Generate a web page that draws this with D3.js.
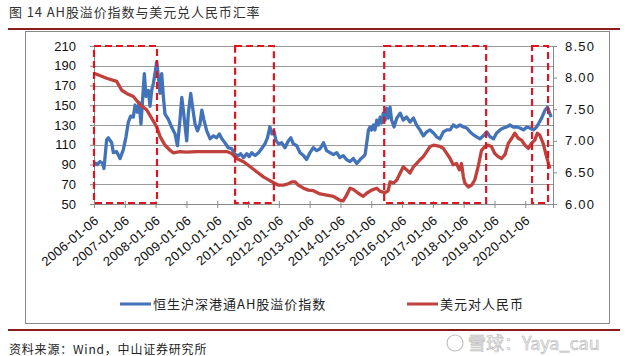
<!DOCTYPE html>
<html><head><meta charset="utf-8">
<script src="https://cdn.jsdelivr.net/npm/d3@7"></script>
<style>body{margin:0;background:#fff}svg{display:block}</style>
</head><body><svg id="c" width="627" height="356"></svg>
<script>
// ---- data ----
const tickYears = [2006,2007,2008,2009,2010,2011,2012,2013,2014,2015,2016,2017,2018,2019,2020];
const tickLabels = tickYears.map(y => y + "-01-06");
const leftTicks = [50,70,90,110,130,150,170,190,210];
const rightTicks = [6.00,6.50,7.00,7.50,8.00,8.50];

// AH premium index (decimal years, value)
const ahYears = [2006.00,2006.10,2006.195,2006.28,2006.325,2006.41,2006.465,2006.574,2006.628,2006.736,2006.844,2006.952,2007.039,2007.115,2007.19,2007.277,2007.331,2007.407,2007.461,2007.526,2007.58,2007.634,2007.688,2007.764,2007.818,2007.872,2007.926,2007.981,2008.035,2008.089,2008.143,2008.197,2008.251,2008.305,2008.41,2008.52,2008.63,2008.71,2008.79,2008.85,2008.90,2008.96,2009.01,2009.06,2009.14,2009.20,2009.28,2009.36,2009.44,2009.50,2009.57,2009.66,2009.77,2009.88,2009.98,2010.07,2010.15,2010.25,2010.36,2010.47,2010.58,2010.69,2010.76,2010.85,2010.96,2011.04,2011.12,2011.23,2011.34,2011.44,2011.55,2011.63,2011.71,2011.78,2011.84,2011.91,2011.99,2012.09,2012.20,2012.31,2012.39,2012.47,2012.58,2012.69,2012.80,2012.90,2013.01,2013.12,2013.23,2013.34,2013.45,2013.55,2013.66,2013.77,2013.88,2013.98,2014.09,2014.20,2014.31,2014.42,2014.53,2014.64,2014.74,2014.80,2014.85,2014.91,2014.96,2015.01,2015.07,2015.12,2015.18,2015.23,2015.29,2015.34,2015.39,2015.45,2015.50,2015.55,2015.61,2015.66,2015.74,2015.83,2015.94,2016.04,2016.15,2016.26,2016.37,2016.47,2016.58,2016.69,2016.80,2016.91,2017.02,2017.12,2017.23,2017.34,2017.45,2017.56,2017.66,2017.77,2017.88,2017.99,2018.10,2018.21,2018.32,2018.42,2018.53,2018.64,2018.75,2018.86,2018.97,2019.07,2019.18,2019.29,2019.40,2019.50,2019.61,2019.72,2019.83,2019.94,2020.05,2020.15,2020.26,2020.37,2020.46,2020.53,2020.64,2020.72,2020.78,2020.84];
const ahValues = [92,90,93,91,86,115,117,112,102,103,96,105,118,133,139,138,150,143,153,131,157,182,159,165,149,165,172,182,194,179,162,182,159,141,136,128,121,109,135,158,145,128,114,141,162,148,131,124,131,145,135,124,116,119,117,121,116,112,107,106,100,99,101,97,101,98,102,99,102,106,111,117,128,121,124,114,111,112,107,114,117,111,109,102,99,95,102,107,104,106,112,104,102,100,102,97,99,95,93,96,91,95,98,100,111,125,128,125,130,125,135,130,138,132,142,135,147,137,148,135,128,137,142,135,138,133,137,130,125,119,123,125,122,118,116,123,125,125,130,128,130,128,127,123,120,118,116,119,123,118,116,122,125,127,128,130,128,128,127,125,128,127,125,128,133,137,145,148,143,138];

// USD/CNY (decimal years, value)
const fxYears = [2006.00,2006.41,2006.736,2006.90,2007.06,2007.277,2007.50,2007.71,2007.87,2008.035,2008.143,2008.305,2008.467,2008.57,2008.79,2009.00,2009.33,2009.65,2009.98,2010.31,2010.47,2010.63,2010.85,2011.07,2011.28,2011.50,2011.71,2011.82,2011.98,2012.15,2012.31,2012.42,2012.53,2012.63,2012.80,2012.96,2013.12,2013.34,2013.55,2013.77,2013.98,2014.09,2014.20,2014.31,2014.42,2014.58,2014.74,2014.85,2015.01,2015.18,2015.29,2015.45,2015.55,2015.61,2015.72,2015.83,2015.94,2016.04,2016.15,2016.26,2016.37,2016.47,2016.58,2016.69,2016.80,2016.91,2017.02,2017.23,2017.34,2017.45,2017.56,2017.66,2017.77,2017.86,2017.93,2017.99,2018.04,2018.15,2018.26,2018.36,2018.47,2018.58,2018.69,2018.80,2018.90,2019.01,2019.12,2019.23,2019.34,2019.45,2019.56,2019.66,2019.77,2019.88,2019.99,2020.10,2020.20,2020.31,2020.39,2020.47,2020.58,2020.69,2020.80];
const fxValues = [8.07,7.99,7.94,7.80,7.75,7.70,7.57,7.49,7.36,7.22,7.07,6.93,6.85,6.81,6.83,6.82,6.83,6.83,6.83,6.83,6.80,6.72,6.67,6.59,6.51,6.43,6.37,6.34,6.30,6.30,6.32,6.35,6.35,6.30,6.25,6.22,6.21,6.16,6.14,6.12,6.06,6.05,6.14,6.25,6.23,6.17,6.12,6.17,6.22,6.25,6.20,6.18,6.21,6.35,6.33,6.38,6.49,6.59,6.54,6.49,6.59,6.64,6.70,6.75,6.83,6.91,6.93,6.91,6.88,6.80,6.72,6.62,6.64,6.54,6.64,6.43,6.33,6.27,6.30,6.38,6.59,6.85,6.91,6.93,6.91,6.80,6.75,6.72,6.78,6.96,7.04,7.12,7.04,7.01,6.93,6.88,6.96,7.01,7.12,7.09,6.96,6.75,6.56];

// highlighted periods (decimal years)
const boxStarts = [2006.00, 2010.58, 2015.42, 2020.22];
const boxEnds   = [2008.045, 2011.84, 2018.73, 2020.74];

const seriesNames = ["恒生沪深港通AH股溢价指数", "美元对人民币"];
const titleText = "图 14 AH股溢价指数与美元兑人民币汇率";
const sourceText = "资料来源：Wind，中山证券研究所";

// ---- drawing ----
const svg = d3.select("#c");
const blue = "#4272b8", red = "#c0403c", boxRed = "#e0141e", dark = "#8b1c1c";
const L = 94, R = 553, T = 46, B = 204;
const x = d3.scaleLinear().domain([2006, 2020.9]).range([L, R]);
const yL = d3.scaleLinear().domain([50, 210]).range([B, T]);
const yR = d3.scaleLinear().domain([6, 8.5]).range([B, T]);
const latin = "'Liberation Sans', Arial, sans-serif";
const cjk = "'Noto Sans CJK SC', sans-serif";

svg.append("rect").attr("width",627).attr("height",356).attr("fill","#fff");

// title
svg.append("text").attr("x",9).attr("y",17).attr("font-family",cjk).attr("font-size",13)
  .attr("letter-spacing","0.9px").attr("fill","#333").text(titleText);

// frame
svg.append("rect").attr("x",25.5).attr("y",31.5).attr("width",584).attr("height",292)
  .attr("fill","none").attr("stroke","#8a8a8a");
svg.append("line").attr("x1",8).attr("x2",620).attr("y1",29).attr("y2",29)
  .attr("stroke",dark).attr("stroke-width",2);
svg.append("line").attr("x1",8).attr("x2",620).attr("y1",330).attr("y2",330)
  .attr("stroke",dark).attr("stroke-width",2);

// gridlines
svg.append("g").selectAll("line").data(leftTicks.slice(1)).join("line")
  .attr("x1",L).attr("x2",R).attr("y1",d=>Math.round(yL(d))+0.5).attr("y2",d=>Math.round(yL(d))+0.5)
  .attr("stroke","#9a9a9a").attr("stroke-width",1);

// axes
const axL = svg.append("g").attr("transform",`translate(${L},0)`)
  .call(d3.axisLeft(yL).tickValues(leftTicks).tickSize(4).tickPadding(14));
const axR = svg.append("g").attr("transform",`translate(${R},0)`)
  .call(d3.axisRight(yR).tickValues(rightTicks).tickSize(4).tickPadding(8).tickFormat(d3.format(".2f")));
const axB = svg.append("g").attr("transform",`translate(0,${B})`)
  .call(d3.axisBottom(x).tickValues(tickYears).tickSize(4).tickFormat((d,i)=>tickLabels[i]));
[axL,axR,axB].forEach(a=>{
  a.select(".domain").attr("stroke","#8a8a8a");
  a.selectAll(".tick line").attr("stroke","#8a8a8a");
  a.selectAll("text").attr("font-family",latin).attr("fill","#111");
});
axL.selectAll("text").attr("font-size",13);
axR.selectAll("text").attr("font-size",13).attr("letter-spacing","1.2px");
axB.selectAll(".tick line").attr("y1",-3);
axB.selectAll("text").attr("font-size",13).attr("letter-spacing","0.3px").attr("text-anchor","end")
  .attr("dy",null).attr("y",0)
  .attr("transform","translate(5,18) rotate(-40)");

// lines
const lineAH = d3.line().x((d,i)=>x(ahYears[i])).y(d=>yL(d));
const lineFX = d3.line().x((d,i)=>x(fxYears[i])).y(d=>yR(d));
svg.append("path").datum(ahValues).attr("d",lineAH).attr("fill","none")
  .attr("stroke",blue).attr("stroke-width",3.3).attr("stroke-linejoin","round");
svg.append("path").datum(fxValues).attr("d",lineFX).attr("fill","none")
  .attr("stroke",red).attr("stroke-width",3.3).attr("stroke-linejoin","round");

// dashed boxes
svg.append("g").selectAll("rect").data(boxStarts).join("rect")
  .attr("x",d=>x(d)).attr("width",(d,i)=>x(boxEnds[i])-x(d))
  .attr("y",yL(210)).attr("height",yL(50)-yL(210)-1)
  .attr("fill","none").attr("stroke",boxRed).attr("stroke-width",2.2)
  .attr("stroke-dasharray","7,4");

// legend
const leg = [{c:blue,x:120,name:seriesNames[0]},{c:red,x:407,name:seriesNames[1]}];
const lg = svg.append("g").selectAll("g").data(leg).join("g");
lg.append("line").attr("x1",d=>d.x).attr("x2",d=>d.x+31).attr("y1",304).attr("y2",304)
  .attr("stroke",d=>d.c).attr("stroke-width",3);
lg.append("text").attr("x",d=>d.x+33).attr("y",309).attr("font-family",cjk).attr("font-size",13)
  .attr("letter-spacing","1px").attr("fill","#222").text(d=>d.name);

// source
svg.append("text").attr("x",9).attr("y",354).attr("font-family",cjk).attr("font-size",12)
  .attr("letter-spacing","0.8px").attr("fill","#222").text(sourceText);

// watermark
svg.append("text").attr("x",468).attr("y",350).attr("font-family",cjk).attr("font-size",18)
  .attr("fill","#f2f2f2").attr("stroke","#b8b8b8").attr("stroke-width",0.6).text("雪球：Yaya_cau");
svg.append("circle").attr("cx",455).attr("cy",343).attr("r",8).attr("fill","none")
  .attr("stroke","#c0c0c0").attr("stroke-width",1.2);
</script></body></html>
